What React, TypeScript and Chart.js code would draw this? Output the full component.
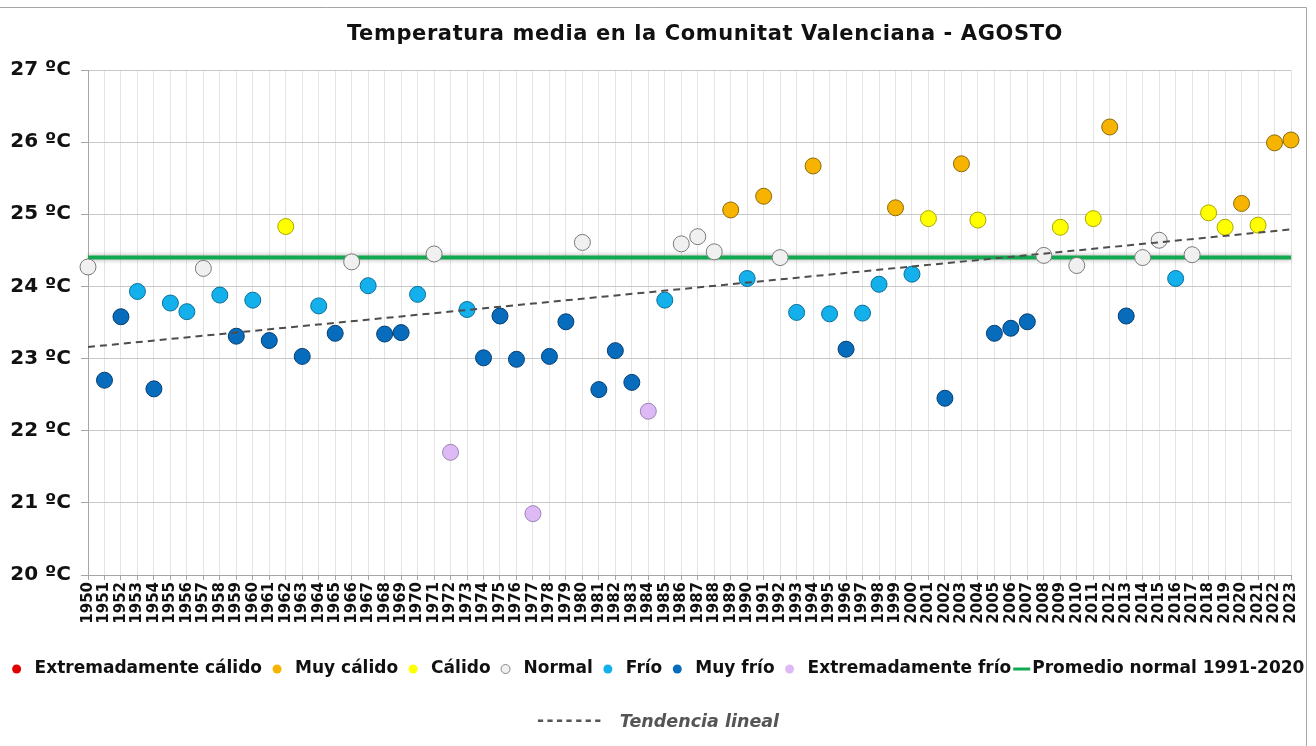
import React, { useEffect, useRef } from 'react';
import { Chart, registerables } from 'chart.js';

Chart.register(...registerables);

// ---------- DATA ----------
const YEARS = [
  '1950','1951','1952','1953','1954','1955','1956','1957','1958','1959',
  '1960','1961','1962','1963','1964','1965','1966','1967','1968','1969',
  '1970','1971','1972','1973','1974','1975','1976','1977','1978','1979',
  '1980','1981','1982','1983','1984','1985','1986','1987','1988','1989',
  '1990','1991','1992','1993','1994','1995','1996','1997','1998','1999',
  '2000','2001','2002','2003','2004','2005','2006','2007','2008','2009',
  '2010','2011','2012','2013','2014','2015','2016','2017','2018','2019',
  '2020','2021','2022','2023',
];

const TEMPS = [
  24.27, 22.70, 23.58, 23.93, 22.58, 23.77, 23.65, 24.25, 23.88, 23.31,
  23.81, 23.25, 24.83, 23.03, 23.73, 23.35, 24.34, 24.01, 23.34, 23.36,
  23.89, 24.45, 21.70, 23.68, 23.01, 23.59, 22.99, 20.85, 23.03, 23.51,
  24.61, 22.57, 23.11, 22.67, 22.27, 23.81, 24.59, 24.69, 24.48, 25.06,
  24.11, 25.25, 24.40, 23.64, 25.67, 23.62, 23.13, 23.63, 24.03, 25.09,
  24.17, 24.94, 22.45, 25.70, 24.92, 23.35, 23.42, 23.51, 24.43, 24.82,
  24.29, 24.94, 26.21, 23.59, 24.40, 24.64, 24.11, 24.44, 25.02, 24.82,
  25.15, 24.85, 25.99, 26.03,
];

// EC = extremadamente cálido, MC = muy cálido, C = cálido, N = normal,
// F = frío, MF = muy frío, EF = extremadamente frío
const CATEGORIES = [
  'N','MF','MF','F','MF','F','F','N','F','MF',
  'F','MF','C','MF','F','MF','N','F','MF','MF',
  'F','N','EF','F','MF','MF','MF','EF','MF','MF',
  'N','MF','MF','MF','EF','F','N','N','N','MC',
  'F','MC','N','F','MC','F','MF','F','F','MC',
  'F','C','MF','MC','C','MF','MF','MF','N','C',
  'N','C','MC','MF','N','N','F','N','C','C',
  'MC','C','MC','MC',
];

const NORMAL_1991_2020 = 24.4;
const TREND_ENDS = [23.16, 24.79];

const Y_TICK_VALUES = [20, 21, 22, 23, 24, 25, 26, 27];
const Y_TICK_LABELS = ['20 ºC', '21 ºC', '22 ºC', '23 ºC', '24 ºC', '25 ºC', '26 ºC', '27 ºC'];

const TITLE = 'Temperatura media en la Comunitat Valenciana - AGOSTO';
const NORMAL_LABEL = 'Promedio normal 1991-2020';
const TREND_DASHES = '-------';
const TREND_LABEL = 'Tendencia lineal';

// ---------- STYLES ----------
const CAT_STYLES = [
  { key: 'EC', label: 'Extremadamente cálido', fill: '#e30000', border: '#8a0000' },
  { key: 'MC', label: 'Muy cálido', fill: '#f6b400', border: '#8a6a10' },
  { key: 'C', label: 'Cálido', fill: '#ffff00', border: '#a8a800' },
  { key: 'N', label: 'Normal', fill: '#f0f0f0', border: '#7a7a7a' },
  { key: 'F', label: 'Frío', fill: '#14b0ec', border: '#0c6f98' },
  { key: 'MF', label: 'Muy frío', fill: '#086cbd', border: '#053f72' },
  { key: 'EF', label: 'Extremadamente frío', fill: '#ddb9f5', border: '#9c82b0' },
];
const GREEN = '#12a84f';
const FONT = '"DejaVu Sans", Verdana, sans-serif';

export default function App() {
  const ref = useRef<HTMLCanvasElement | null>(null);

  useEffect(() => {
    const canvas = ref.current;
    if (!canvas) return;

    const pointSets = CAT_STYLES.map((c) => ({
      type: 'line' as const,
      label: c.label,
      data: TEMPS.map((t, i) => (CATEGORIES[i] === c.key ? t : null)),
      showLine: false,
      pointRadius: 8,
      pointHoverRadius: 8,
      pointBorderWidth: 1,
      pointBackgroundColor: c.fill,
      pointBorderColor: c.border,
      backgroundColor: c.fill,
      borderColor: c.border,
      order: 1,
    }));

    const last = YEARS.length - 1;
    const trendSet = {
      type: 'line' as const,
      label: 'Tendencia lineal',
      data: YEARS.map((_, i) => (i === 0 ? TREND_ENDS[0] : i === last ? TREND_ENDS[1] : null)),
      spanGaps: true,
      borderColor: '#4d4d4d',
      borderWidth: 2,
      borderDash: [7, 5],
      pointRadius: 0,
      order: 0,
    };

    const normalSet = {
      type: 'line' as const,
      label: NORMAL_LABEL,
      data: YEARS.map(() => NORMAL_1991_2020),
      borderColor: GREEN,
      borderWidth: 4,
      pointRadius: 0,
      order: 2,
    };

    const shadowPlugin = {
      id: 'greenShadow',
      beforeDatasetDraw(chart: any, args: any) {
        if (chart.data.datasets[args.index].label === NORMAL_LABEL) {
          const ctx = chart.ctx;
          ctx.save();
          ctx.shadowColor = 'rgba(0,0,0,0.35)';
          ctx.shadowBlur = 5;
        }
      },
      afterDatasetDraw(chart: any, args: any) {
        if (chart.data.datasets[args.index].label === NORMAL_LABEL) {
          chart.ctx.restore();
        }
      },
    };

    const decorPlugin = {
      id: 'decor',
      afterDraw(chart: any) {
        const ctx = chart.ctx as any;
        const W = chart.width;
        ctx.save();
        // frame
        ctx.strokeStyle = '#a6a6a6';
        ctx.lineWidth = 1;
        ctx.beginPath();
        ctx.moveTo(0, 7.5);
        ctx.lineTo(1306.5, 7.5);
        ctx.lineTo(1306.5, chart.height);
        ctx.stroke();

        // title
        ctx.fillStyle = '#111';
        ctx.font = `bold 21px ${FONT}`;
        ctx.letterSpacing = '0.6px';
        ctx.textAlign = 'center';
        ctx.textBaseline = 'middle';
        ctx.fillText(TITLE, 705, 35);
        ctx.letterSpacing = '0px';

        // legend row
        ctx.font = `bold 17px ${FONT}`;
        ctx.textAlign = 'left';
        const dotGap = 19;
        const itemGap = 14;
        const lineW = 17;
        let total = 0;
        CAT_STYLES.forEach((c) => {
          total += dotGap + ctx.measureText(c.label).width + itemGap;
        });
        total -= itemGap;
        total += 2 + lineW + 2 + ctx.measureText(NORMAL_LABEL).width;
        let x = W / 2 - total / 2 + 2;
        const y = 669;
        CAT_STYLES.forEach((c) => {
          ctx.beginPath();
          ctx.arc(x + 1, y, 4.5, 0, Math.PI * 2);
          ctx.fillStyle = c.fill;
          ctx.fill();
          if (c.key === 'N') {
            ctx.strokeStyle = '#8a8a8a';
            ctx.lineWidth = 1;
            ctx.stroke();
          }
          ctx.fillStyle = '#111';
          ctx.fillText(c.label, x + dotGap, y);
          x += dotGap + ctx.measureText(c.label).width + itemGap;
        });
        x -= itemGap;
        x += 2;
        ctx.strokeStyle = GREEN;
        ctx.lineWidth = 3;
        ctx.beginPath();
        ctx.moveTo(x, y);
        ctx.lineTo(x + lineW, y);
        ctx.stroke();
        x += lineW + 2;
        ctx.fillStyle = '#111';
        ctx.fillText(NORMAL_LABEL, x, y);

        // trend legend
        ctx.fillStyle = '#555';
        ctx.font = `bold 17px ${FONT}`;
        ctx.letterSpacing = '2.5px';
        const dashW = ctx.measureText(TREND_DASHES).width;
        ctx.letterSpacing = '0px';
        ctx.font = `italic bold 17.5px ${FONT}`;
        const txtW = ctx.measureText(TREND_LABEL).width;
        const gap = 16;
        let tx = W / 2 - (dashW + gap + txtW) / 2;
        ctx.font = `bold 17px ${FONT}`;
        ctx.letterSpacing = '2.5px';
        ctx.fillText(TREND_DASHES, tx, 722);
        ctx.letterSpacing = '0px';
        tx += dashW + gap;
        ctx.font = `italic bold 17.5px ${FONT}`;
        ctx.fillText(TREND_LABEL, tx, 722);
        ctx.restore();
      },
    };

    Chart.defaults.font.family = FONT;

    const chart = new Chart(canvas, {
      type: 'line',
      data: {
        labels: YEARS,
        datasets: [trendSet, ...pointSets, normalSet] as any,
      },
      options: {
        responsive: false,
        animation: false,
        events: [],
        layout: { padding: { left: 0, right: 25, top: 70, bottom: 101 } },
        plugins: {
          legend: { display: false },
          title: { display: false },
          tooltip: { enabled: false },
        },
        scales: {
          x: {
            type: 'category',
            offset: false,
            grid: {
              offset: false,
              color: '#e4e4e4',
              lineWidth: 1,
              drawTicks: true,
              tickLength: 5,
              tickColor: '#a6a6a6',
            },
            border: { display: true, color: '#a6a6a6' },
            ticks: {
              autoSkip: false,
              minRotation: 90,
              maxRotation: 90,
              padding: 2,
              color: '#111',
              font: { size: 15, weight: 'bold', family: FONT },
            },
            afterFit(scale: any) {
              scale.height = 70;
            },
          },
          y: {
            min: Y_TICK_VALUES[0],
            max: Y_TICK_VALUES[Y_TICK_VALUES.length - 1],
            grid: {
              color: '#c8c8c8',
              lineWidth: 1,
              drawTicks: true,
              tickLength: 7,
              tickColor: '#a6a6a6',
            },
            border: { display: true, color: '#a6a6a6' },
            ticks: {
              stepSize: 1,
              padding: 10,
              color: '#111',
              font: { size: 20, weight: 'bold', family: FONT },
              callback: (v: any) => {
                const idx = Y_TICK_VALUES.indexOf(Number(v));
                return idx >= 0 ? Y_TICK_LABELS[idx] : '';
              },
            },
            afterFit(scale: any) {
              scale.width = 88;
            },
          },
        },
      },
      plugins: [shadowPlugin, decorPlugin],
    });

    return () => chart.destroy();
  }, []);

  return (
    <div style={{ position: 'fixed', left: 0, top: 0, width: 1316, height: 746, background: '#fff' }}>
      <canvas ref={ref} width={1316} height={746} style={{ display: 'block' }} />
    </div>
  );
}
